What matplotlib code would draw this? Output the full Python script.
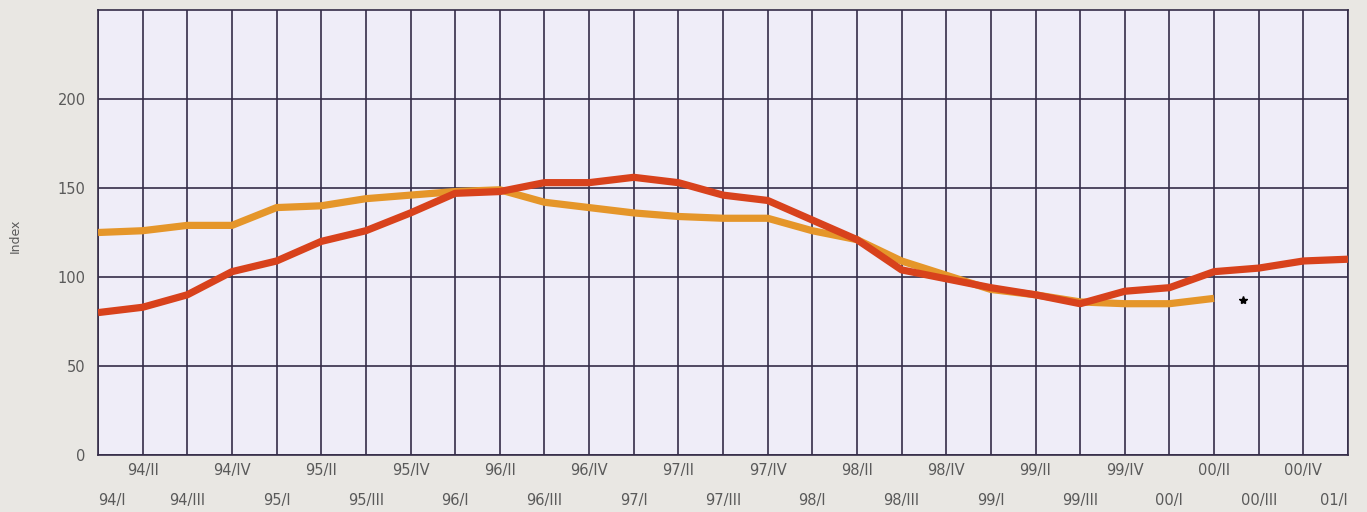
import matplotlib
matplotlib.use("Agg")
import matplotlib.pyplot as plt
import matplotlib.ticker as ticker

# quarters 94/I .. 01/I
quarters = ["94/I", "94/II", "94/III", "94/IV",
            "95/I", "95/II", "95/III", "95/IV",
            "96/I", "96/II", "96/III", "96/IV",
            "97/I", "97/II", "97/III", "97/IV",
            "98/I", "98/II", "98/III", "98/IV",
            "99/I", "99/II", "99/III", "99/IV",
            "00/I", "00/II", "00/III", "00/IV",
            "01/I"]

red_values = [80, 83, 90, 103, 109, 120, 126, 136, 147, 148,
              153, 153, 156, 153, 146, 143, 132, 121, 104, 99,
              94, 90, 85, 92, 94, 103, 105, 109, 110]

orange_values = [125, 126, 129, 129, 139, 140, 144, 146, 148, 149,
                 142, 139, 136, 134, 133, 133, 126, 121, 109, 101,
                 93, 90, 86, 85, 85, 88]

star_x = [25.65]
star_y = [87]

y_ticks = [0, 50, 100, 150, 200]

BG = "#e9e7e3"
PLOT_BG = "#efedf8"
GRID = "#342c48"
RED = "#d8421c"
ORANGE = "#e5962a"
TEXT = "#5a5a5a"


def main():
    fig = plt.figure(figsize=(13.67, 5.12), dpi=100, facecolor=BG)
    ax = fig.add_axes([0.0717, 0.1113, 0.9144, 0.8692])
    ax.set_facecolor(PLOT_BG)

    xs_red = list(range(len(red_values)))
    xs_orange = list(range(len(orange_values)))
    ax.plot(xs_orange, orange_values, color=ORANGE, lw=5.2,
            solid_capstyle="butt", zorder=3)
    ax.plot(xs_red, red_values, color=RED, lw=5.2,
            solid_capstyle="butt", zorder=4)
    ax.plot(star_x, star_y, marker="*", color="black", ms=6,
            ls="none", zorder=5)

    ax.set_xlim(0, len(quarters) - 1)
    ax.set_ylim(0, 250)

    # even quarters on the lower row, odd ones on the upper row
    even = list(range(0, len(quarters), 2))
    odd = list(range(1, len(quarters), 2))
    ax.xaxis.set_major_locator(ticker.FixedLocator(even))
    ax.xaxis.set_major_formatter(ticker.FixedFormatter([quarters[i] for i in even]))
    ax.xaxis.set_minor_locator(ticker.FixedLocator(odd))
    ax.xaxis.set_minor_formatter(ticker.FixedFormatter([quarters[i] for i in odd]))
    ax.tick_params(axis="x", which="major", length=0, pad=27,
                   labelsize=10.5, labelcolor=TEXT)
    ax.tick_params(axis="x", which="minor", length=0, pad=6,
                   labelsize=10.5, labelcolor=TEXT)
    labels = ax.get_xticklabels()
    labels[0].set_horizontalalignment("left")
    labels[-1].set_horizontalalignment("right")

    ax.set_yticks(y_ticks)
    ax.tick_params(axis="y", length=0, pad=9, labelsize=10.5, labelcolor=TEXT)

    ax.grid(which="both", axis="x", color=GRID, lw=1.2, zorder=1)
    ax.grid(which="major", axis="y", color=GRID, lw=1.2, zorder=1)
    ax.set_axisbelow(True)
    for s in ax.spines.values():
        s.set_color(GRID)
        s.set_linewidth(1.2)

    fig.text(0.011, 0.54, "Index", rotation=90, ha="center", va="center",
             fontsize=9, color=TEXT)

    fig.savefig("out.png", dpi=100, facecolor=BG)


if __name__ == "__main__":
    main()
